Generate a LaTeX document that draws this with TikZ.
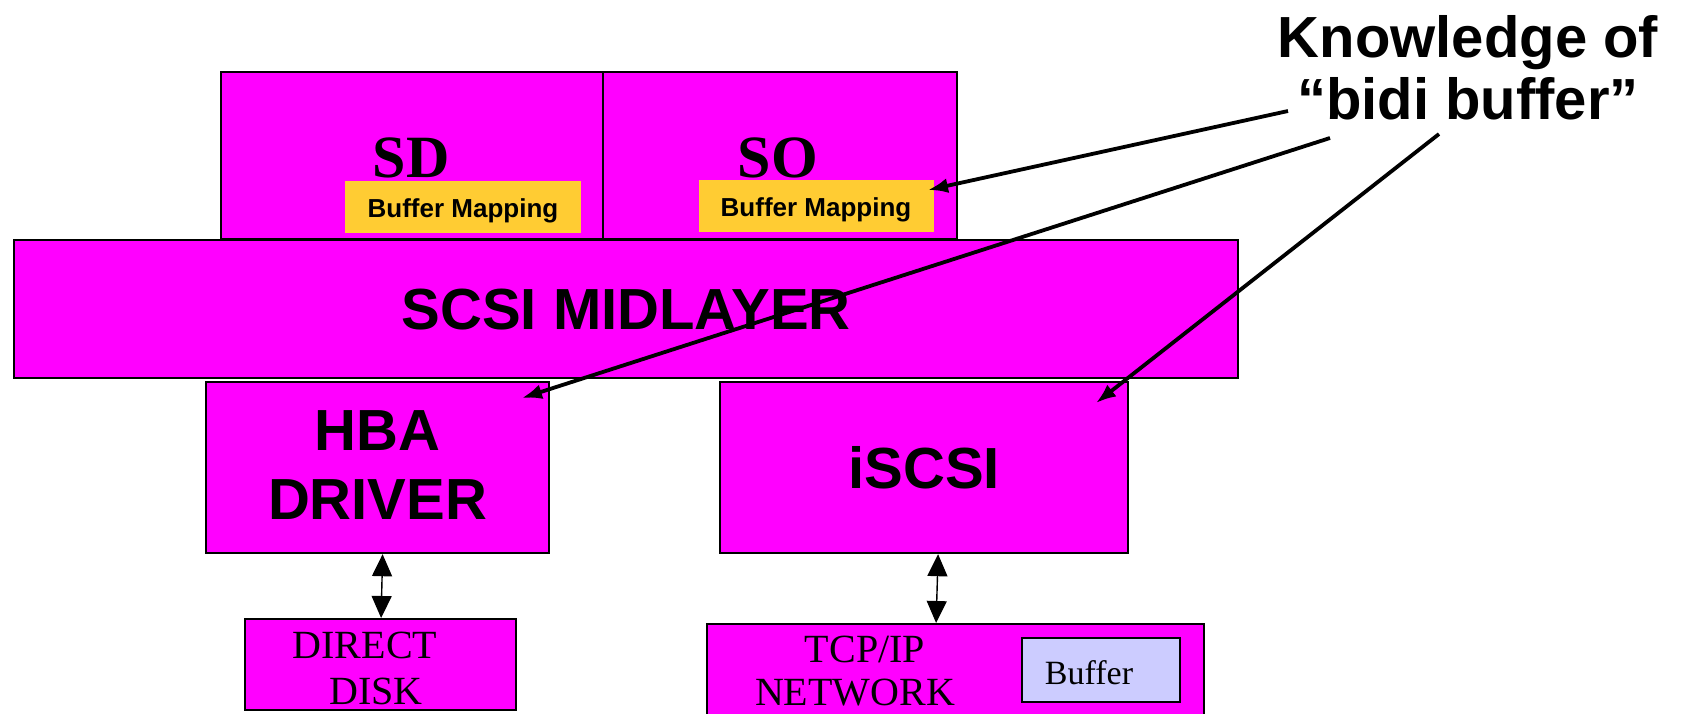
\documentclass[tikz,border=0pt]{standalone}
\usepackage{fontspec}
\setmainfont{Liberation Serif}
\newfontfamily\arialfont{Liberation Sans}
\usetikzlibrary{arrows.meta}
\definecolor{mag}{HTML}{FF00FF}
\definecolor{ylw}{HTML}{FFCC33}
\definecolor{lav}{HTML}{CCCCFF}
\begin{document}
\begin{tikzpicture}[x=1pt,y=-1pt,
  box/.style={draw=black, line width=2.2pt, fill=mag, inner sep=0pt, anchor=north west},
  bmap/.style={fill=ylw, inner sep=0pt, anchor=north west},
  bigsans/.style={font=\arialfont\bfseries\fontsize{58}{69}\selectfont, align=center},
  serifbig/.style={font=\bfseries\fontsize{60}{60}\selectfont, anchor=base, inner sep=0pt},
  smallsans/.style={font=\arialfont\bfseries\fontsize{26}{26}\selectfont, anchor=base, inner sep=0pt},
  serifmid/.style={font=\fontsize{40}{40}\selectfont, anchor=base, inner sep=0pt},
  callout/.style={line width=3.8pt, -{Latex[length=20pt,width=15pt]}},
  dbl/.style={line width=1.4pt, {Triangle[length=22pt,width=20pt]}-{Triangle[length=22pt,width=20pt]}}
]
\clip (0,0) rectangle (1683,713);
\fill[white] (0,0) rectangle (1683,713);

% top boxes
\node[box, minimum width=382pt, minimum height=167pt] (sd) at (220,71) {};
\node[box, minimum width=354pt, minimum height=167pt] (so) at (602,71) {};
\node[bmap, minimum width=236pt, minimum height=52pt] (bm1) at (345,181) {};
\node[bmap, minimum width=235pt, minimum height=52pt] (bm2) at (699,180) {};
\node[serifbig] (sdt) at (411,177) {SD};
\node[serifbig] (sot) at (778,177) {SO};
\node[smallsans] (bm1t) at (463,217) {Buffer Mapping};
\node[smallsans] (bm2t) at (816,216) {Buffer Mapping};

% midlayer
\node[box, minimum width=1224pt, minimum height=138pt] (mid) at (13,239) {};
\node[bigsans] (midt) at (mid.center) {SCSI MIDLAYER};

% drivers
\node[box, minimum width=343pt, minimum height=171pt] (hba) at (205,381) {};
\node[bigsans] (hbat) at ([yshift=3pt]hba.center) {HBA\\DRIVER};
\node[box, minimum width=408pt, minimum height=171pt] (iscsi) at (719,381) {};
\node[bigsans] (iscsit) at (iscsi.center) {iSCSI};

% bottom boxes
\node[box, minimum width=271pt, minimum height=91pt] (disk) at (244,618) {};
\node[serifmid] (dk1) at (365,658) {DIRECT};
\node[serifmid] (dk2) at (376,704) {DISK};
\node[box, minimum width=497pt, minimum height=120pt] (tcp) at (706,623) {};
\node[serifmid] (tc1) at (865,662) {TCP/IP};
\node[serifmid] (tc2) at (855,705) {NETWORK};
\node[draw=black, line width=1.6pt, fill=lav, inner sep=0pt, anchor=north west,
      minimum width=158pt, minimum height=64pt] (buf) at (1021,637) {};
\node[font=\fontsize{34}{34}\selectfont, anchor=base, inner sep=0pt] (buft) at (1089,684) {Buffer};

% vertical double arrows
\draw[dbl] ([xshift=5pt]hba.south) -- ([xshift=0.5pt]disk.north);
\draw[dbl] ([xshift=14pt]iscsi.south) -- ([xshift=-19.5pt]tcp.north);

% knowledge label
\node[font=\arialfont\bfseries\fontsize{58}{62}\selectfont, align=center, anchor=base, inner sep=0pt]
  (know) at (1468,119) {Knowledge of\\“bidi buffer”};

\coordinate (k1) at (1288,111);
\coordinate (k2) at (1330,138);
\coordinate (k3) at (1439,134);
\coordinate (t1) at (928,190);
\coordinate (t2) at (522,398);
\coordinate (t3) at (1096,403);
\draw[callout] (k1) -- (t1);
\draw[callout] (k2) -- (t2);
\draw[callout] (k3) -- (t3);
\end{tikzpicture}
\end{document}
